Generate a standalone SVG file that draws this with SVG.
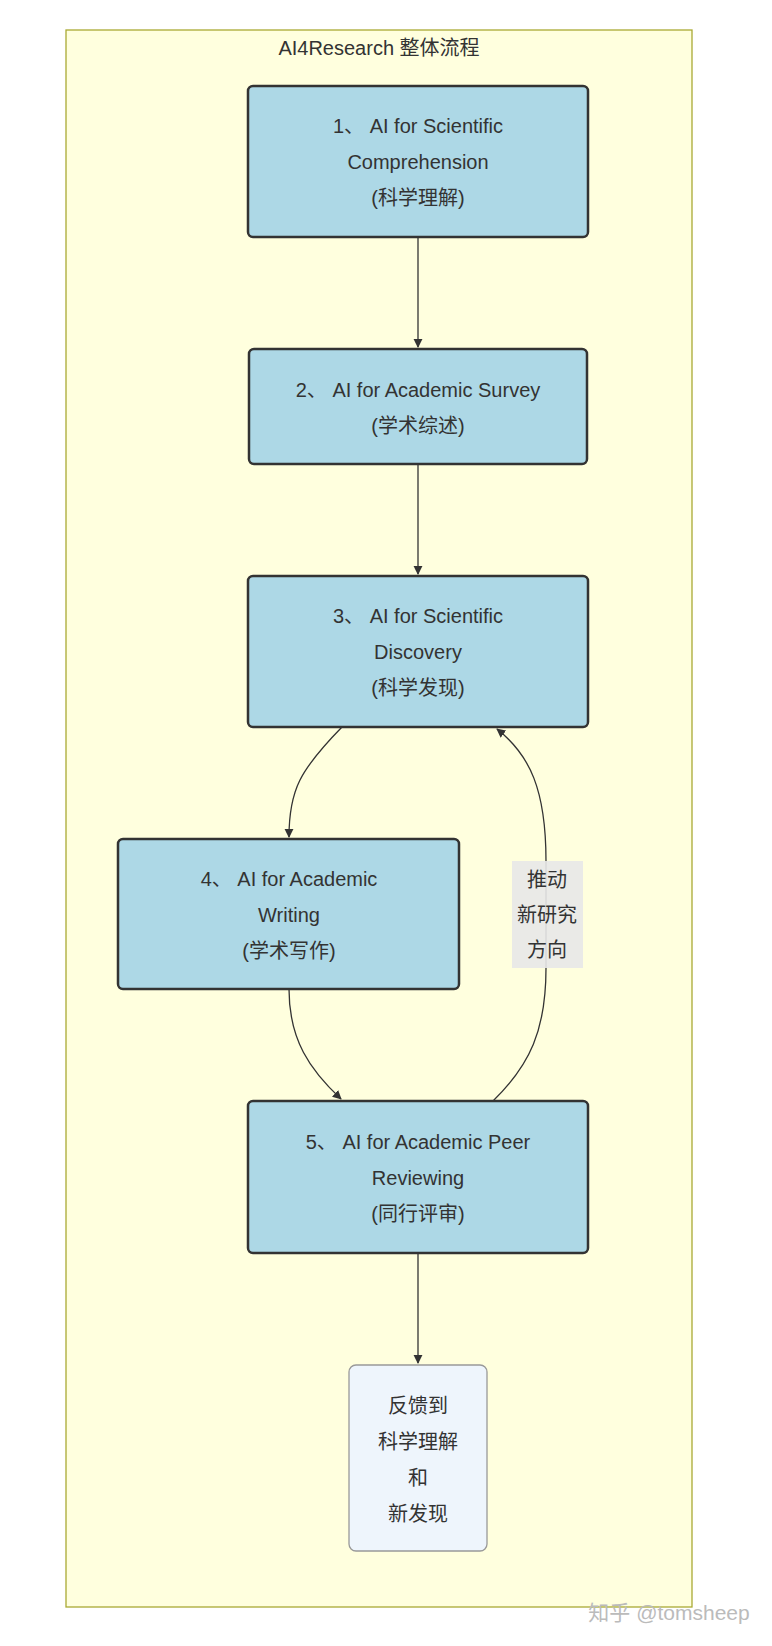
<svg xmlns="http://www.w3.org/2000/svg" width="772" height="1646" viewBox="0 0 772 1646">
<style>
text{font-family:"Liberation Sans","Noto Sans CJK SC",sans-serif;font-size:20px;fill:#333;text-anchor:middle}
.n{fill:#add8e6;stroke:#333;stroke-width:2.5}
.e{fill:none;stroke:#333;stroke-width:1.3}
</style>
<defs><marker id="a" viewBox="0 0 10 10" refX="9" refY="5" markerWidth="7" markerHeight="7" orient="auto"><path d="M0 0L10 5L0 10z" fill="#333"/></marker></defs>
<rect x="0" y="0" width="772" height="1646" fill="#fff"/>
<g id="frame"><rect x="66" y="30" width="626" height="1577" fill="#ffffde" stroke="#aaaa33" stroke-width="1.3"/>
<text x="379" y="55">AI4Research 整体流程</text></g>
<g id="connectors">
<path class="e" d="M418 237V347" marker-end="url(#a)"/>
<path class="e" d="M418 464V574" marker-end="url(#a)"/>
<path class="e" d="M342 727C300 770 289 790 289 837" marker-end="url(#a)"/>
<path class="e" d="M289 989C289 1040 310 1070 341 1099" marker-end="url(#a)"/>
<path class="e" d="M493 1101C530 1065 546 1030 546 968V861C546 790 530 755 497 729" marker-end="url(#a)"/>
<path class="e" d="M418 1253V1363" marker-end="url(#a)"/>
</g>
<g id="label"><rect x="512" y="861" width="71" height="107" fill="#e8e8e8" opacity="0.9"/>
<text x="547" y="887">推动</text><text x="547" y="922">新研究</text><text x="547" y="957">方向</text></g>
<g id="n1"><rect class="n" x="248" y="86" width="340" height="151" rx="5"/>
<text x="418" y="133">1、 AI for Scientific</text><text x="418" y="169">Comprehension</text><text x="418" y="205">(科学理解)</text></g>
<g id="n2"><rect class="n" x="249" y="349" width="338" height="115" rx="5"/>
<text x="418" y="397">2、 AI for Academic Survey</text><text x="418" y="433">(学术综述)</text></g>
<g id="n3"><rect class="n" x="248" y="576" width="340" height="151" rx="5"/>
<text x="418" y="623">3、 AI for Scientific</text><text x="418" y="659">Discovery</text><text x="418" y="695">(科学发现)</text></g>
<g id="n4"><rect class="n" x="118" y="839" width="341" height="150" rx="5"/>
<text x="289" y="886">4、 AI for Academic</text><text x="289" y="922">Writing</text><text x="289" y="958">(学术写作)</text></g>
<g id="n5"><rect class="n" x="248" y="1101" width="340" height="152" rx="5"/>
<text x="418" y="1149">5、 AI for Academic Peer</text><text x="418" y="1185">Reviewing</text><text x="418" y="1221">(同行评审)</text></g>
<g id="n6"><rect x="349" y="1365" width="138" height="186" rx="7" fill="#eef5fc" stroke="#999" stroke-width="1.3"/>
<text x="418" y="1413">反馈到</text><text x="418" y="1449">科学理解</text><text x="418" y="1485">和</text><text x="418" y="1521">新发现</text></g>
<text x="669" y="1620" style="font-size:21px;fill:#bbb">知乎 @tomsheep</text>
</svg>
